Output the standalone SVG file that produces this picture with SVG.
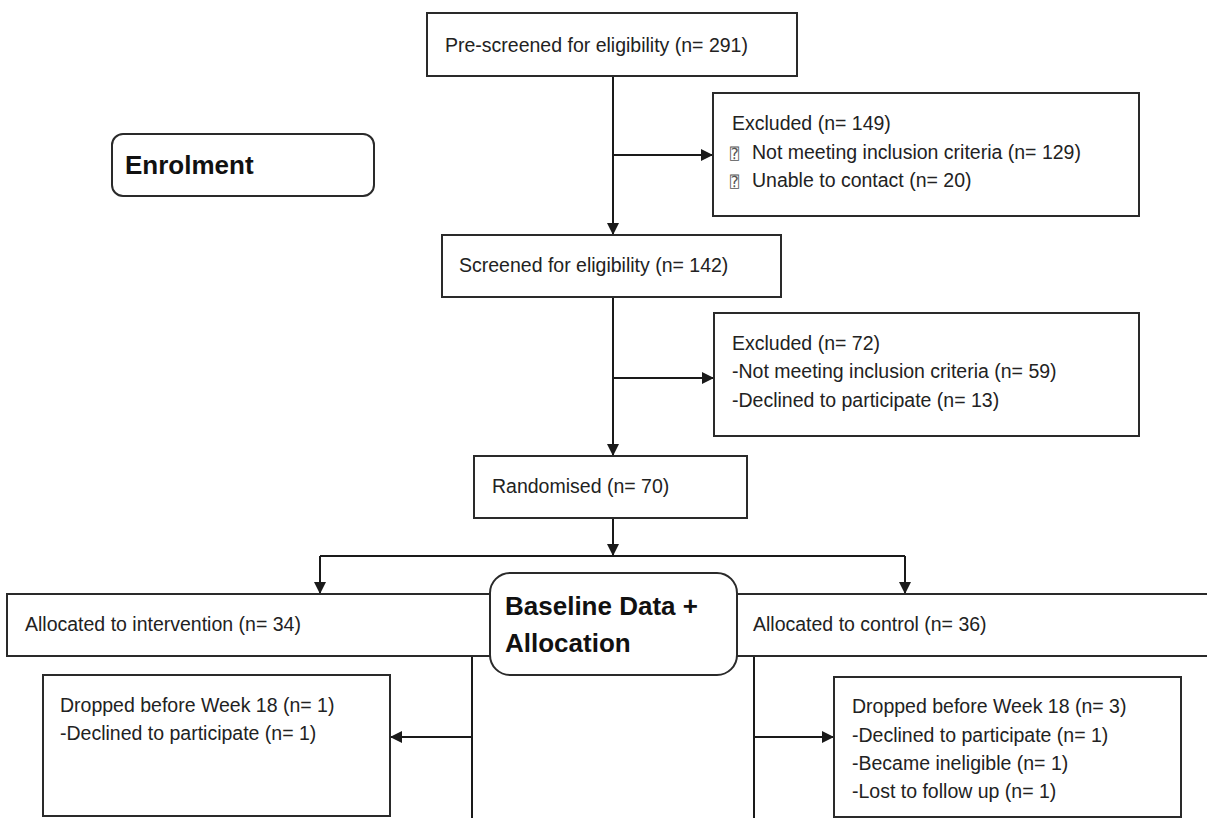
<svg xmlns="http://www.w3.org/2000/svg" width="1207" height="818" viewBox="0 0 1207 818">
<defs>
<marker id="arr" viewBox="0 0 12 12" refX="12" refY="6" markerWidth="12" markerHeight="12" markerUnits="userSpaceOnUse" orient="auto">
<path d="M0,0 L12,6 L0,12 Z" fill="#1a1a1a"/>
</marker>
<style>
.box{fill:#fff;stroke:#2a2a2a;stroke-width:2}
.t{font-family:"Liberation Sans",Arial,sans-serif;font-size:19.5px;fill:#222}
.b{font-family:"Liberation Sans",Arial,sans-serif;font-size:26px;font-weight:bold;fill:#111}
.bul{font-family:"DejaVu Sans Mono","DejaVu Sans",sans-serif;font-size:15px;fill:#555}
.ln{fill:none;stroke:#1a1a1a;stroke-width:2}
.ar{fill:none;stroke:#1a1a1a;stroke-width:2;marker-end:url(#arr)}
</style>
</defs>
<rect width="1207" height="818" fill="#fff"/>
<g id="connectors">
<path class="ar" d="M613,76 V235"/>
<path class="ar" d="M613,155 H713"/>
<path class="ar" d="M613,297 V456"/>
<path class="ar" d="M613,378 H714"/>
<path class="ar" d="M613,518 V556"/>
<path class="ln" d="M320,556 H905"/>
<path class="ar" d="M320,556 V594"/>
<path class="ar" d="M905,556 V594"/>
<path class="ln" d="M472,656 V818"/>
<path class="ar" d="M472,737 H390"/>
<path class="ln" d="M754,656 V818"/>
<path class="ar" d="M754,737 H834"/>
</g>
<g id="prescreened">
<rect class="box" x="427" y="13" width="370" height="63"/>
<text class="t" x="445" y="52">Pre-screened for eligibility (n= 291)</text>
</g>
<g id="enrolment">
<rect class="box" x="112" y="134" width="262" height="62" rx="11"/>
<text class="b" x="125" y="174">Enrolment</text>
</g>
<g id="excluded1">
<rect class="box" x="713" y="93" width="426" height="123"/>
<text class="t" x="732" y="130">Excluded (n= 149)</text>
<text class="t" y="159"><tspan class="bul" x="730">⍰</tspan><tspan x="752">Not meeting inclusion criteria (n= 129)</tspan></text>
<text class="t" y="187"><tspan class="bul" x="730">⍰</tspan><tspan x="752">Unable to contact (n= 20)</tspan></text>
</g>
<g id="screened">
<rect class="box" x="442" y="235" width="339" height="62"/>
<text class="t" x="459" y="272">Screened for eligibility (n= 142)</text>
</g>
<g id="excluded2">
<rect class="box" x="714" y="313" width="425" height="123"/>
<text class="t" x="732" y="350">Excluded (n= 72)</text>
<text class="t" x="732" y="378">-Not meeting inclusion criteria (n= 59)</text>
<text class="t" x="732" y="407">-Declined to participate (n= 13)</text>
</g>
<g id="randomised">
<rect class="box" x="474" y="456" width="273" height="62"/>
<text class="t" x="492" y="493">Randomised (n= 70)</text>
</g>
<g id="intervention">
<rect class="box" x="7" y="594" width="600" height="62"/>
<text class="t" x="25" y="631">Allocated to intervention (n= 34)</text>
</g>
<g id="control">
<rect class="box" x="640" y="594" width="580" height="62"/>
<text class="t" x="753" y="631">Allocated to control (n= 36)</text>
</g>
<g id="baseline">
<rect class="box" x="490" y="573" width="247" height="102" rx="20"/>
<text class="b" x="505" y="615">Baseline Data +</text>
<text class="b" x="505" y="652">Allocation</text>
</g>
<g id="dropped-intervention">
<rect class="box" x="43" y="675" width="347" height="141"/>
<text class="t" x="60" y="712">Dropped before Week 18 (n= 1)</text>
<text class="t" x="60" y="740">-Declined to participate (n= 1)</text>
</g>
<g id="dropped-control">
<rect class="box" x="834" y="677" width="347" height="140"/>
<text class="t" x="852" y="713">Dropped before Week 18 (n= 3)</text>
<text class="t" x="852" y="742">-Declined to participate (n= 1)</text>
<text class="t" x="852" y="770">-Became ineligible (n= 1)</text>
<text class="t" x="852" y="798">-Lost to follow up (n= 1)</text>
</g>
</svg>
